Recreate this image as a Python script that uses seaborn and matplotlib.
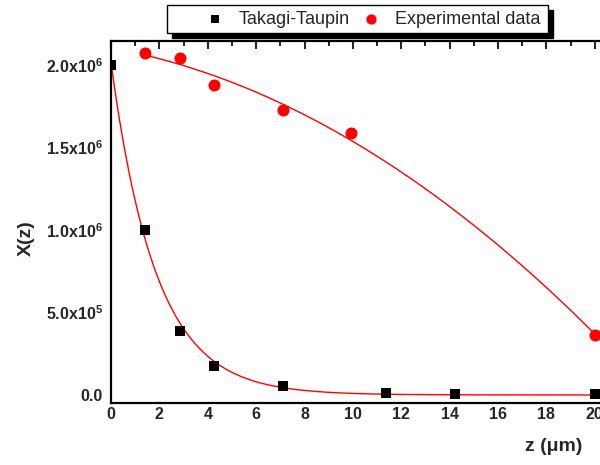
import numpy as np
import pandas as pd
import matplotlib
matplotlib.use("Agg")
import matplotlib.pyplot as plt
import seaborn as sns
from matplotlib.patches import Rectangle
from matplotlib.ticker import FuncFormatter, MultipleLocator

# Depth positions (um)
z_tt = [0.0, 1.42, 2.84, 4.26, 7.10, 11.36, 14.20, 20.0]
x_tt = [2.0e6, 1.0e6, 3.85e5, 1.78e5, 5.6e4, 1.3e4, 7e3, 7e3]

z_exp = [1.42, 2.84, 4.26, 7.10, 9.94, 20.0]
x_exp = [2.07e6, 2.04e6, 1.88e6, 1.727e6, 1.59e6, 3.64e5]

y_ticks = [0.0, 5.0e5, 1.0e6, 1.5e6, 2.0e6]
x_ticks = [0, 2, 4, 6, 8, 10, 12, 14, 16, 18, 20]

sns.set_theme(style="white")
plt.rcParams["font.family"] = ["Liberation Sans", "DejaVu Sans"]
plt.rcParams["mathtext.fontset"] = "custom"
plt.rcParams["mathtext.rm"] = "Liberation Sans:bold"
plt.rcParams["mathtext.default"] = "rm"

df_tt = pd.DataFrame({"z": z_tt, "X": x_tt})
df_exp = pd.DataFrame({"z": z_exp, "X": x_exp})

# Exponential decay fit (A*exp(-z/t) + c) for the Takagi-Taupin values
zt = np.array(z_tt); xt = np.array(x_tt)
best = None
for t in np.linspace(0.5, 5, 451):
    M = np.column_stack([np.exp(-zt / t), np.ones_like(zt)])
    coef, *_ = np.linalg.lstsq(M, xt, rcond=None)
    err = np.sum((M @ coef - xt) ** 2)
    if best is None or err < best[0]:
        best = (err, t, coef)
_, tau, (amp, off) = best
zf1 = np.linspace(0, 20, 400)
fit_tt = pd.DataFrame({"z": zf1, "X": amp * np.exp(-zf1 / tau) + off})

# Quadratic fit for the experimental values
p = np.polyfit(z_exp, x_exp, 2)
zf2 = np.linspace(min(z_exp), max(z_exp), 300)
fit_exp = pd.DataFrame({"z": zf2, "X": np.polyval(p, zf2)})

fig = plt.figure(figsize=(6.0, 4.65), dpi=100)
ax = fig.add_axes([111 / 600, 1 - 403 / 465, 508 / 600, (403 - 41) / 465])

sns.lineplot(data=fit_tt, x="z", y="X", ax=ax, color="red", lw=1.0, zorder=2)
sns.lineplot(data=fit_exp, x="z", y="X", ax=ax, color="red", lw=1.0, zorder=2)
sns.scatterplot(data=df_tt, x="z", y="X", ax=ax, marker="s", s=55, color="black",
                edgecolor="black", linewidth=0, zorder=3, label="Takagi-Taupin")
sns.scatterplot(data=df_exp, x="z", y="X", ax=ax, marker="o", s=75, color="red",
                edgecolor="red", linewidth=0, zorder=3, label="Experimental data")

ax.set_xlim(0, 21)
ax.set_ylim(-0.0485e6, 2.145e6)
ax.set_xticks(x_ticks)
ax.xaxis.set_minor_locator(MultipleLocator(1))
ax.set_yticks(y_ticks)
ax.yaxis.set_minor_locator(MultipleLocator(2.5e5))


def yfmt(v, pos):
    if v == 0:
        return "0.0"
    e = int(np.floor(np.log10(abs(v))))
    m = v / 10 ** e
    return f"{m:.1f}x10$^{{{e}}}$"


ax.yaxis.set_major_formatter(FuncFormatter(yfmt))
ax.tick_params(axis="both", which="major", direction="in", length=6, width=1.5,
               labelsize=11.5, top=True, right=True)
ax.tick_params(axis="x", which="major", pad=3)
ax.tick_params(axis="y", which="major", pad=6)
ax.tick_params(axis="both", which="minor", direction="in", length=3.5, width=1.5,
               top=True, right=True)
for lab in ax.get_xticklabels() + ax.get_yticklabels():
    lab.set_fontweight("bold")
for s in ax.spines.values():
    s.set_linewidth(1.6)
    s.set_color("black")

ax.set_xlabel("")
ax.set_ylabel("")
fig.text(554 / 600, 1 - 446 / 465, "z (\u03bcm)", fontsize=14, fontweight="bold",
         ha="center", va="center")
fig.text(26 / 600, 1 - 238 / 465, "X(z)", fontsize=14, fontweight="bold",
         rotation=90, ha="center", va="center")

handles, labels = ax.get_legend_handles_labels()
ax.get_legend().remove()
lx0, ly0, lw, lh = 167 / 600, 1 - 33 / 465, (548 - 167) / 600, 28 / 465
fig.patches.append(Rectangle((lx0 + 5 / 600, ly0 - 5 / 465), lw, lh,
                             transform=fig.transFigure, facecolor="black",
                             edgecolor="black", zorder=0))
leg = fig.legend(handles, labels, loc="center", bbox_to_anchor=(373 / 600, 1 - 19 / 465),
                 ncol=2, frameon=False, fontsize=13, handletextpad=0.83,
                 columnspacing=0.67, markerscale=0.85, handlelength=1.0,
                 borderpad=0, borderaxespad=0)
fig.patches.append(Rectangle((lx0, ly0), lw, lh, transform=fig.transFigure,
                             facecolor="white", edgecolor="black", lw=1.0, zorder=1))
leg.set_zorder(5)

fig.savefig("out.png", dpi=100)
